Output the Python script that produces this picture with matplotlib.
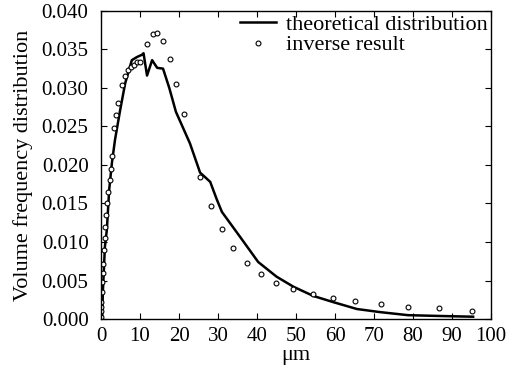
import matplotlib
matplotlib.use("Agg")
import matplotlib.pyplot as plt
from matplotlib.ticker import FormatStrFormatter

plt.rcParams['font.family'] = ['Liberation Serif', 'DejaVu Serif']

# theoretical distribution
theo_x = [0.0, 0.3, 0.5, 1.0, 1.5, 2.1, 2.8, 3.6, 4.9, 6.2, 7.9, 9.2, 10.5, 10.9,
          11.8, 13.1, 14.4, 15.9, 17.5, 19.2, 22.8, 25.4, 26.5, 28.0, 29.7, 31.0,
          35.6, 40.3, 45.0, 49.3, 54.4, 59.5, 65.6, 71.5, 78.7, 86.4, 95.4]
theo_y = [0.0000, 0.0000, 0.0038, 0.0094, 0.0116, 0.0168, 0.0203, 0.0233, 0.0271,
          0.0306, 0.0336, 0.0340, 0.0343, 0.0345, 0.0316, 0.0336, 0.0326, 0.0325,
          0.0300, 0.0269, 0.0228, 0.0190, 0.0185, 0.0178, 0.0155, 0.0139, 0.0107,
          0.0074, 0.0055, 0.0042, 0.0030, 0.0022, 0.0013, 0.0009, 0.0005, 0.0004,
          0.0003]

# inverse result
inv_x = [0.05, 0.05, 0.1, 0.1, 0.2, 0.3, 0.4, 0.5, 0.7, 0.9, 1.1, 1.3, 1.6, 1.9,
         2.2, 2.5, 2.9, 3.3, 3.8, 4.4, 5.4, 6.2, 6.9, 7.7, 8.5, 9.2, 10.0, 11.8,
         13.3, 14.4, 15.9, 17.7, 19.2, 21.3, 25.5, 28.2, 31.0, 33.8, 37.4, 41.0,
         44.9, 49.2, 54.4, 59.5, 65.1, 71.8, 78.7, 86.7, 95.1]
inv_y = [0.0003, 0.0010, 0.0016, 0.0022, 0.0035, 0.0048, 0.0060, 0.0072, 0.0090,
         0.0105, 0.0120, 0.0135, 0.0150, 0.0165, 0.0180, 0.0195, 0.0212, 0.0248,
         0.0265, 0.0280, 0.0304, 0.0315, 0.0323, 0.0327, 0.0330, 0.0333, 0.0333,
         0.0357, 0.0370, 0.0371, 0.0361, 0.0338, 0.0305, 0.0266, 0.0184, 0.0147,
         0.0117, 0.0092, 0.0073, 0.0058, 0.0047, 0.0039, 0.0032, 0.0027, 0.0023,
         0.0019, 0.0016, 0.0014, 0.0011]

x_ticks = [0, 10, 20, 30, 40, 50, 60, 70, 80, 90, 100]
y_ticks = [0.000, 0.005, 0.010, 0.015, 0.020, 0.025, 0.030, 0.035, 0.040]

fig = plt.figure(figsize=(5.18, 3.74), dpi=100)
ax = fig.add_axes([0.195, 0.147, 0.753, 0.824])

ax.plot(theo_x, theo_y, color='black', lw=1.8, label='theoretical distribution')
ax.plot(inv_x, inv_y, ls='none', marker='o', ms=3.5, mfc='white', mec='black',
        mew=0.8, label='inverse result')

ax.set_xlim(0, 100)
ax.set_ylim(0, 0.040)
ax.set_xticks(x_ticks)
ax.set_yticks(y_ticks)
ax.yaxis.set_major_formatter(FormatStrFormatter('%.3f'))
ax.tick_params(direction='in', top=True, right=True, length=4, labelsize=15)
ax.tick_params(axis='y', pad=9)
ax.tick_params(axis='x', pad=6)
for s in ax.spines.values():
    s.set_linewidth(1.0)

ax.set_xlabel('μm', fontsize=16, labelpad=0)
ax.set_ylabel('Volume frequency distribution', fontsize=16, labelpad=6)

ax.legend(loc='upper right', frameon=False, fontsize=16, handlelength=1.6,
          handletextpad=0.45, borderaxespad=0.0, borderpad=0.15,
          labelspacing=0.0, markerscale=1.0, numpoints=1)

fig.savefig('out.png', dpi=100)
